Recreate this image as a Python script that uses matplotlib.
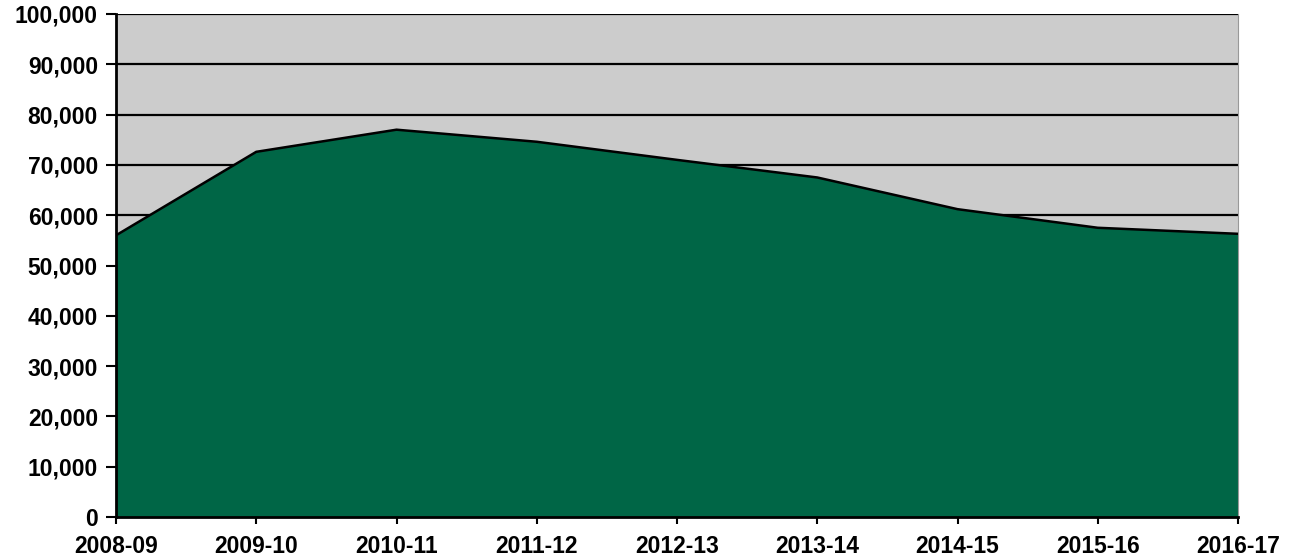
import matplotlib.pyplot as plt
from matplotlib.ticker import FuncFormatter

plt.rcParams['font.family'] = ['Liberation Sans', 'DejaVu Sans']

# datos
years = ['2008-09', '2009-10', '2010-11', '2011-12', '2012-13',
         '2013-14', '2014-15', '2015-16', '2016-17']
values = [56000, 72600, 77000, 74600, 71000, 67500, 61200, 57500, 56300]

fig = plt.figure(figsize=(12.9, 5.6), dpi=100)
ax = fig.add_axes([116 / 1290, 1 - 517 / 560, (1238 - 116) / 1290, (517 - 14) / 560])
ax.set_facecolor('#cccccc')

x = list(range(len(years)))
ax.fill_between(x, values, 0, color='#006646', zorder=2)
ax.plot(x, values, color='black', linewidth=1.8, zorder=3)

ax.set_xlim(0, len(years) - 1)
ax.set_ylim(0, 100000)
ax.set_yticks(range(0, 100001, 10000))
ax.yaxis.set_major_formatter(FuncFormatter(lambda v, p: f'{int(v):,}'))
ax.set_xticks(x)
ax.set_xticklabels(years)

ax.grid(axis='y', color='black', linewidth=1.6, zorder=1)
ax.set_axisbelow(True)

for side in ['left', 'bottom']:
    ax.spines[side].set_linewidth(2)
    ax.spines[side].set_zorder(4)
ax.spines['top'].set_visible(False)
ax.spines['right'].set_color('#999999')

ax.tick_params(axis='y', length=7, width=1.5, labelsize=16.5, pad=6)
ax.tick_params(axis='x', length=5, width=1.5, labelsize=16.5, pad=8)
for lbl in ax.get_xticklabels() + ax.get_yticklabels():
    lbl.set_fontweight('bold')

fig.savefig('out.png', dpi=100)
